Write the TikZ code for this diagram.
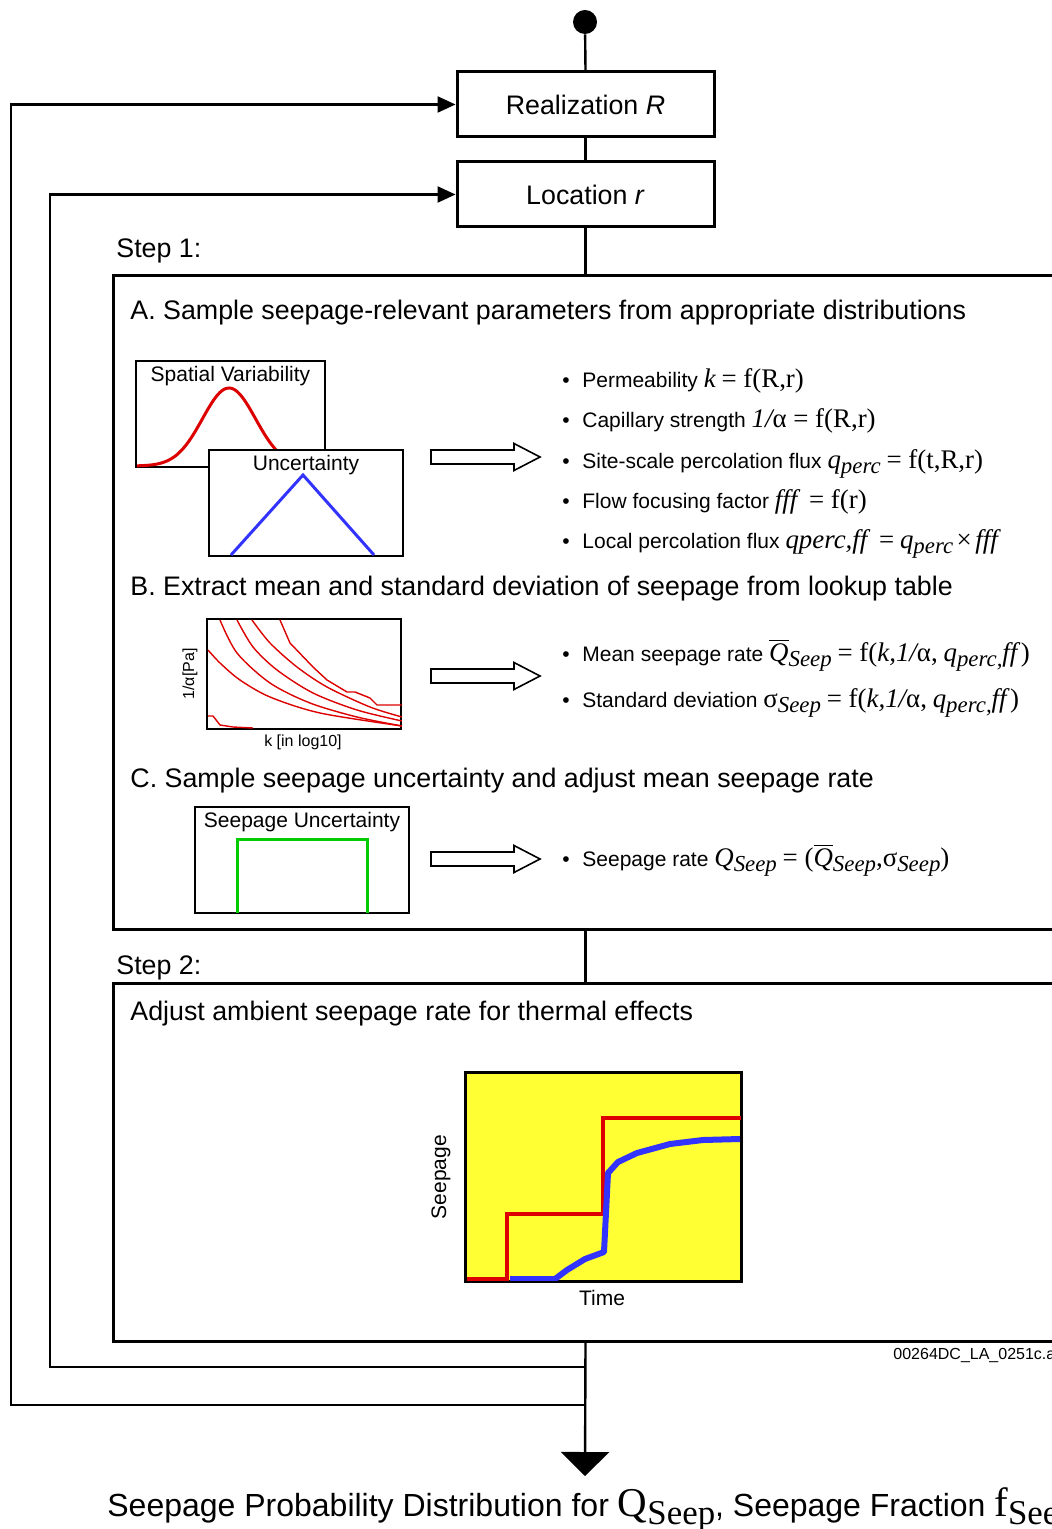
\documentclass[tikz,border=0pt]{standalone}
\usepackage{fontspec}
\usepackage{graphicx}
\setmainfont{Liberation Sans}
\newfontfamily\tmsfont[Scale=1.28]{Liberation Serif}
\usetikzlibrary{arrows.meta,positioning}

\definecolor{curvered}{RGB}{221,0,0}
\definecolor{curveblue}{RGB}{51,51,255}
\definecolor{boxgreen}{RGB}{0,204,0}
\definecolor{plotyellow}{RGB}{255,255,51}

\newcommand{\timesit}[1]{{\tmsfont\itshape #1}}
\newcommand{\timesrm}[1]{{\tmsfont #1}}
\newcommand{\timessub}[1]{\raisebox{-0.5ex}{\scalebox{0.85}{\tmsfont\itshape #1}}}
\newcommand{\timessubrm}[1]{\raisebox{-0.5ex}{\scalebox{0.85}{\tmsfont #1}}}
\newcommand{\qbar}{$\overline{\hbox{\timesit{Q}}}$}
\newcommand{\bulletitem}{\makebox[10pt][l]{\textbullet}}

\begin{document}
\begin{tikzpicture}[x=0.5pt,y=-0.5pt]
\tikzset{
  flowbox/.style={draw=black,line width=1.5pt,minimum width=128.5pt,minimum height=32.5pt,inner sep=0pt,font=\fontsize{13.4}{16}\selectfont},
  stepbox/.style={draw=black,line width=1.5pt,inner sep=0pt,minimum width=485pt},
  flowline/.style={draw=black,line width=1.2pt,line cap=butt,line join=miter},
  looparrow/.style={flowline,-{Triangle[length=9pt,width=8pt]}},
  headtext/.style={anchor=base west,inner sep=0pt,font=\fontsize{13.4}{16}\selectfont},
  itemtext/.style={anchor=base west,inner sep=0pt,font=\fontsize{10.5}{13}\selectfont},
  plotbox/.style={draw=black,line width=1pt,inner sep=0pt,fill=white},
  plottitle/.style={anchor=north,inner sep=0pt,font=\fontsize{10.5}{13}\selectfont},
  axistext/.style={inner sep=0pt,font=\fontsize{8}{10}\selectfont},
  hollowarrow/.style={draw=black,line width=0.8pt,fill=white,line join=miter}
}
\useasboundingbox (0,0) rectangle (1052,1529);
\fill[white] (0,0) rectangle (1052,1529);
\clip (0,0) rectangle (1052,1529);

% flow chart frame
\node[circle,fill=black,minimum size=12pt,inner sep=0pt] (n_start) at (585,22) {};
\node[flowbox] (n_real) at (585.5,104.5) {Realization \textit{R}};
\node[flowbox] (n_loc) at (585.5,194.5) {Location \textit{r}};
\node[stepbox,minimum height=326.5pt] (n_step1) at (598,602.5) {};
\node[stepbox,minimum height=179pt] (n_step2) at (598,1162) {};
\node[headtext] (n_s1lab) at (116,258) {Step 1:};
\node[headtext] (n_s2lab) at (116,974) {Step 2:};
\coordinate (c_loopB) at (585,1367);
\coordinate (c_loopA) at (585,1405);
\coordinate (c_out) at (585,1476);

\draw[flowline] (n_start) -- (n_real.north);
\draw[flowline] (n_real.south) -- (n_loc.north);
\draw[flowline] (n_loc.south) -- (n_loc.south |- n_step1.north);
\draw[flowline] (n_step1.south -| n_loc.south) -- (n_step2.north -| n_loc.south);
\draw[flowline,-{Triangle[length=12pt,width=24pt]}] (n_step2.south -| n_loc.south) -- (c_out);
\draw[looparrow] (c_loopA) -- (11,1405) |- (n_real.west);
\draw[looparrow] (c_loopB) -- (50,1367) |- (n_loc.west);

% step 1, part A
\node[headtext] (n_headA) at (130,320) {A. Sample seepage-relevant parameters from appropriate distributions};
\node[plotbox,minimum width=94.5pt,minimum height=53pt] (n_spatial) at (230.5,414) {};
\node[plottitle] (n_spatialtitle) at ([yshift=-3pt]n_spatial.north) {Spatial Variability};
\draw[curvered,line width=1.5pt] plot[domain=137:276,samples=70,smooth] (\x,{466-78*exp(-((\x-229)/26.5)^2/2)});
\node[plotbox,minimum width=97pt,minimum height=53pt] (n_uncert) at (306,503) {};
\node[plottitle] (n_uncerttitle) at ([yshift=-3pt]n_uncert.north) {Uncertainty};
\draw[curveblue,line width=1.5pt] (231,555) -- (303,475) -- (374,555);
\node[itemtext] (n_itemA1) at (562,388) {\bulletitem Permeability \timesit{k} \timesrm{= f(R,r)}};
\node[itemtext] (n_itemA2) at (562,428) {\bulletitem Capillary strength \timesit{1/}\timesrm{α = f(R,r)}};
\node[itemtext] (n_itemA3) at (562,468) {\bulletitem Site-scale percolation flux \timesit{q}\timessub{perc} \timesrm{= f(t,R,r)}};
\node[itemtext] (n_itemA4) at (562,508) {\bulletitem Flow focusing factor \timesit{fff}\ \ \timesrm{= f(r)}};
\node[itemtext] (n_itemA5) at (562,548) {\bulletitem Local percolation flux \timesit{qperc,ff}\ \ \timesrm{=} \timesit{q}\timessub{perc}\,\timesrm{×}\,\timesit{fff}};

% step 1, part B
\node[headtext] (n_headB) at (130,595) {B. Extract mean and standard deviation of seepage from lookup table};
\node[plotbox,minimum width=97pt,minimum height=55pt] (n_lookup) at (304,674) {};
\begin{scope}[curvered,line width=0.7pt]
\clip (n_lookup.south west) rectangle (n_lookup.north east);
\draw plot[smooth] coordinates {(220,620) (237,653) (270,683) (310,703) (357,717) (402,726)};
\draw plot[smooth] coordinates {(237,620) (253,647) (277,670) (313,693) (357,710) (402,721)};
\draw plot[smooth] coordinates {(252,620) (270,643) (297,667) (327,687) (370,707) (402,717)};
\draw (280,620) -- (290,643) -- (313,667) -- (327,680) -- (347,692) -- (355,692) -- (370,698) -- (377,705) -- (402,705);
\draw plot[smooth] coordinates {(208,650) (220,663) (240,680) (270,697) (320,713) (402,726)};
\draw (208,716) -- (213,716) -- (220,725) -- (233,727) -- (253,728);
\end{scope}
\node[axistext,rotate=90] (n_lookupy) at (190,674) {1/α[Pa]};
\node[axistext] (n_lookupx) at (303,742) {k [in log10]};
\node[itemtext] (n_itemB1) at (562,661) {\bulletitem Mean seepage rate \qbar\timessub{Seep} \timesrm{= f(}\timesit{k,1/}\timesrm{α,} \timesit{q}\timessub{perc,}\timesit{ff}\,\timesrm{)}};
\node[itemtext] (n_itemB2) at (562,707) {\bulletitem Standard deviation \timesrm{σ}\timessub{Seep} \timesrm{= f(}\timesit{k,1/}\timesrm{α,} \timesit{q}\timessub{perc,}\timesit{ff}\,\timesrm{)}};

% step 1, part C
\node[headtext] (n_headC) at (130,787) {C. Sample seepage uncertainty and adjust mean seepage rate};
\node[plotbox,minimum width=107pt,minimum height=53pt] (n_seepunc) at (302,860) {};
\node[plottitle] (n_seepunctitle) at ([yshift=-3pt]n_seepunc.north) {Seepage Uncertainty};
\draw[boxgreen,line width=1.5pt] (237,913) -- (237,839) -- (367,839) -- (367,913);
\node[itemtext] (n_itemC1) at (562,866) {\bulletitem Seepage rate \timesit{Q}\timessub{Seep} \timesrm{= (}\qbar\timessub{Seep}\timesrm{,σ}\timessub{Seep}\timesrm{)}};

\foreach \ay in {457,676,859}
  \draw[hollowarrow] (431,\ay-7) -- (514,\ay-7) -- (514,\ay-13.5) -- (540,\ay) -- (514,\ay+13.5) -- (514,\ay+7) -- (431,\ay+7) -- cycle;

% step 2
\node[headtext] (n_headD) at (130,1020) {Adjust ambient seepage rate for thermal effects};
\node[plotbox,fill=plotyellow,minimum width=137.5pt,minimum height=104pt] (n_thermal) at (603.5,1177) {};
\draw[curvered,line width=2pt] (467,1279) -- (507,1279) -- (507,1214) -- (603,1214) -- (603,1118) -- (741,1118);
\draw[curveblue,line width=3pt,line join=round] (510,1279) -- (555,1279) -- (567,1270) -- (585,1259) -- (604,1252) -- (608,1173) -- (618,1162) -- (637,1153) -- (670,1144) -- (703,1140) -- (740,1139);
\draw[black,line width=1pt] (n_thermal.north west) rectangle (n_thermal.south east);
\node[inner sep=0pt,rotate=90,font=\fontsize{10.5}{13}\selectfont] (n_thermaly) at (441,1177) {Seepage};
\node[inner sep=0pt,font=\fontsize{10.5}{13}\selectfont] (n_thermalx) at (602,1298) {Time};
\node[axistext,anchor=base west] (n_figid) at (893,1359) {00264DC\_LA\_0251c.a};

% result
\node[anchor=base west,inner sep=0pt,font=\fontsize{16}{19}\selectfont] (n_result) at (107,1516) {Seepage Probability Distribution for \timesrm{Q}\timessubrm{Seep}, Seepage Fraction \timesrm{f}\timessubrm{Seep}};
\end{tikzpicture}
\end{document}
